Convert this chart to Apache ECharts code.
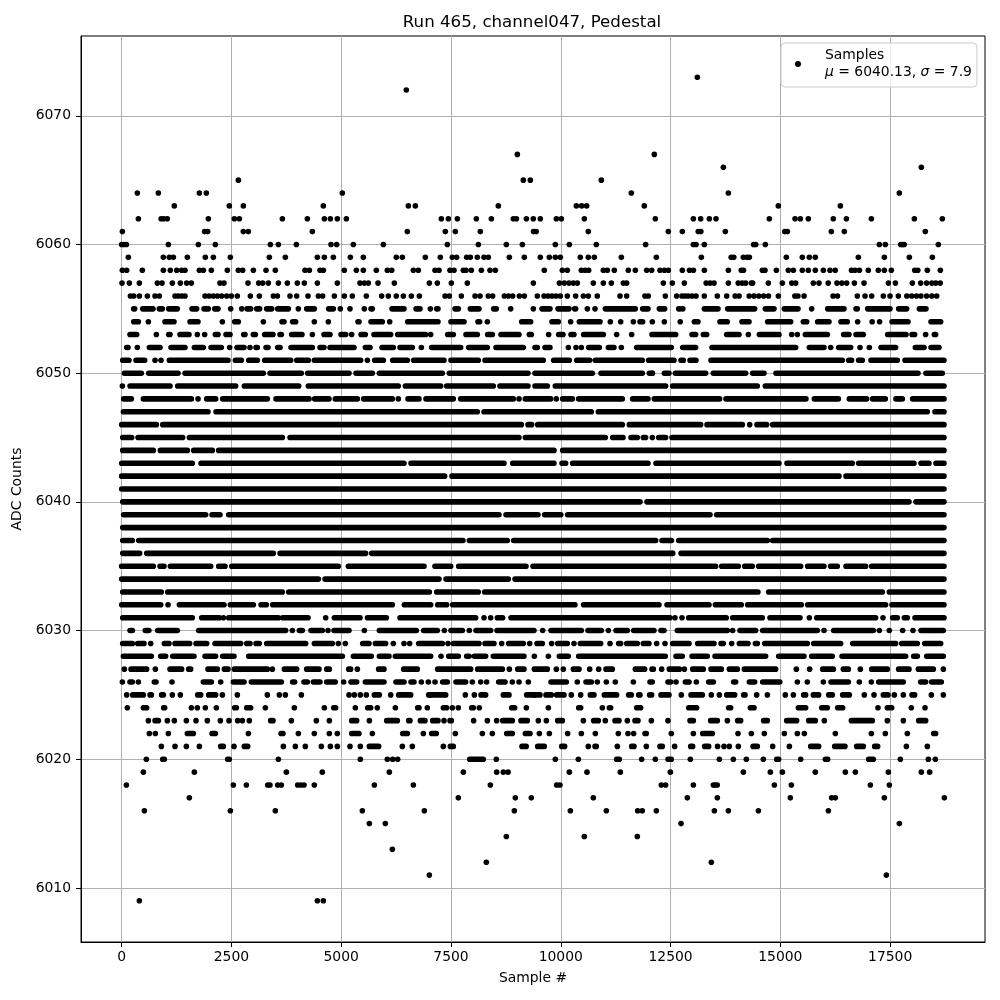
<!DOCTYPE html>
<html><head><meta charset="utf-8">
<script src="https://cdn.jsdelivr.net/npm/echarts@6/dist/echarts.min.js"></script>
<style>html,body{margin:0;padding:0;background:#fff}#c{width:1000px;height:1000px}</style>
</head><body><div id="c"></div>
<script>
const chartTitle='Run 465, channel047, Pedestal';
const xName='Sample #', yName='ADC Counts';
const xTicks=[0,2500,5000,7500,10000,12500,15000,17500];
const yTicks=[6010,6020,6030,6040,6050,6060,6070];
const seriesName='Samples';
const meanText='6040.13', sigmaText='7.9';

// Values. pNNNN: single samples at that ADC level.
// rNNNN: start,end pairs of stretches where the markers merge into a solid band.
const p6073=[13110];
const p6072=[6483];
const p6067=[9011,12130];
const p6066=[13702,18210];
const p6065=[2658,9147,9307,10923];
const p6064=[358,836,1770,1929,5026,11606,13816,17709];
const p6063=[1200,2453,2772,4593,6529,6688,8578,10354,10476,10589,11902,14954,16366];
const p6062=[381,900,960,1040,1975,2567,2681,3660,4229,4616,4753,4912,5117,7280,7440,7645,8077,8419,8920,8990,9216,9375,9534,9899,10013,10536,12153,13019,13186,13383,13535,14749,15334,15455,15637,16206,16503,17072,18051,18688];
const p6061=[17,1890,1960,2771,2885,4343,6506,7371,7599,8168,9380,9440,10627,12449,12768,13130,13190,13747,15100,15160,16161,16457,18301];
const p6060=[0,50,110,1064,1747,2134,3387,3569,3979,4768,4897,5276,5960,7417,8123,8760,9125,9876,10195,10810,11933,13020,13080,13269,14390,14440,14658,17254,17390,17740,17780,17820,18597];
const p6059=[153,950,1087,1178,1497,1906,2089,2476,3364,3728,4457,4616,4821,5208,5504,6255,6392,6916,7257,7531,7629,7857,7940,8100,8252,8350,8829,9170,9534,9739,9876,9990,10445,10627,10764,11379,12176,13201,13880,13940,14157,14240,14294,15136,15500,15660,15796,16776,17368,17937,18461];
const p6058=[16,115,472,950,1109,1254,1368,1443,1770,1861,2043,2407,2658,2757,3000,3288,3500,4176,4275,4518,4594,5071,5345,5504,5800,6050,6150,6643,6756,7136,7227,7477,7569,7781,7842,7963,8191,8388,8510,9625,10035,10149,10468,10552,10635,10969,11060,11219,11538,11698,11956,12070,12259,12358,12449,12768,12930,13020,13269,13816,14110,14160,14590,14650,14909,15182,15296,15500,15637,15796,15979,16130,16250,16620,16700,16800,17003,17231,17368,17527,18060,18130,18347,18643];
const p6057=[9,176,404,813,920,1155,1337,1481,1588,2240,2331,2878,3121,3212,3341,3569,3774,4001,4161,4457,4912,5428,5527,5618,5838,6210,7007,7189,7508,7872,9375,9967,10081,10187,10286,10377,10741,10969,11151,11424,11500,12335,12540,12814,13310,13400,13490,13816,14040,14130,14210,14340,14370,14726,15045,15260,15350,15750,15880,16090,16290,16400,16510,16685,16905,17460,17620,18005,18195,18330,18450,18540,18640];
const p6056=[200,275,404,586,760,859,1216,1290,1370,1443,1899,1990,2089,2180,2278,2392,2499,2635,2931,3136,3455,3546,3834,3986,4244,4480,4578,4844,5071,5254,5572,5921,6073,6255,6415,6597,6779,7364,7462,7736,8047,8161,8350,8449,8715,8806,8904,9056,9170,9466,9618,9710,9800,9890,9990,10149,10339,10514,10627,10832,11349,11500,11917,11993,12381,12639,12760,12830,12900,12990,13080,13269,13565,13778,13970,14060,14290,14400,14510,14620,14730,14954,15330,15400,15540,16200,16300,16753,16928,17080,17345,17497,17687,17880,17990,18100,18200,18330,18450,18560];
const p6055=[2483,2734,4024,4980,5200,5527,7030,8859,9375,10605,10779,12780,15713];
const r6055=[275,297,480,715,859,927,1072,1269,1603,1709,1876,1975,2119,2195,2347,2361,2856,2938,3076,3143,3303,3417,3554,3796,4214,4388,4715,4821,5679,5709,5884,5899,6157,6430,6704,6794,7174,7204,7592,7667,7941,8138,8472,8532,9573,9754,9937,10187,10316,10339,11015,11697,11865,11986,12244,12365,12685,12714,13269,13580,13801,14415,14658,14855,15091,15402,16078,16449,16723,16753,16988,17496,17694,17876,18165,18316];
const p6054=[609,2294,3227,4388,4707,6104,8328,10225,11128,11364,11652,12085,12358,16760,17090,17260,12720];
const r6054=[47,54,275,381,988,1193,1558,1739,2575,2658,3652,3697,3895,3963,4153,4168,4897,4912,5383,5405,5679,5936,6514,7204,7500,7796,8115,8153,9110,9314,9800,9944,10423,10893,11804,11864,13042,13124,13626,13792,14127,14286,14711,15235,15523,15599,15850,16107,16381,16525,17543,17906,18431,18650];
const p6053=[791,1724,1891,4343,5238,7037,9724,11272,11614,14271,15258,15387,18308];
const r6053=[191,343,540,555,1072,1102,1330,1534,2134,2195,2377,2468,2780,2809,2999,3045,3258,3447,3607,3637,3873,4107,4609,4745,4996,5102,5452,5549,5747,6126,6286,6923,7425,7553,7842,8100,8335,8441,8639,9048,9284,9329,9512,9519,9952,10050,10233,10300,10521,10969,11789,11796,12077,12616,12989,13071,13247,13322,13778,14058,14522,14969,15569,16070,16442,16563,16723,16889,17444,17861,17998,18058,18506,18536];
const p6052=[358,2460,2923,6825,10172,10347,10468,11379,16146,16814,17026];
const r6052=[115,145,632,874,1125,1443,1656,1860,2036,2270,2628,2787,3060,3090,3288,3333,3554,3607,3857,4343,4518,4608,4746,5291,5550,5656,5930,6187,6339,6620,7060,7720,7903,8327,8525,9147,9413,9466,9641,9754,10635,10878,11083,11211,11728,12517,12776,13071,13444,15348,15660,15994,16328,16601,17292,17625,18074,18271,18431,18612];
const p6051=[761,897,5596];
const r6051=[25,168,328,525,1087,2423,2590,2726,2894,3090,3258,3850,3987,4252,4389,5443,5763,5960,6173,6506,6650,7341,7500,8122,8275,9602,9838,10194,10362,10657,10787,11857,12000,12578,12738,12790,12943,13079,13421,16411,16556,16623,16783,16866,17064,17663,17838,18726];
const p6050=[12085];
const r6050=[63,449,617,1284,1444,3227,3380,4092,4237,5178,5338,5709,5869,7303,7463,9253,9413,10718,10916,11857,12017,12085,12358,12464,12609,13299,13474,14210,14370,14627,14901,18134,18316,18688];
const p6049=[17];
const r6049=[192,1102,1277,2597,2795,4032,4252,6300,6461,7265,7402,8464,8616,9253,9413,9694,9876,12388,12548,14475,14658,18726];
const p6048=[1740,6300,9049,9899];
const r6048=[47,221,495,1588,1937,2142,2302,3318,3516,4267,4396,4722,4867,5368,5512,6164,6521,6771,6931,7553,7721,8919,9193,9770,10043,10263,10407,11401,11637,11986,12130,13617,13762,15583,15774,16320,16571,16965,17102,17390,17633,17777,18013,18726];
const r6047=[40,1967,2150,8100,8252,10696,10855,18346,18521,18726];
const p6046=[14301];
const r6046=[2,791,936,9102,9254,9337,9474,11401,11561,13185,13330,14134,14468,14688,14825,18726];
const p6045=[12085];
const r6045=[25,229,374,1390,1543,3660,3835,9048,9193,11014,11182,11417,11600,11743,11880,11932,12229,12388,12533,18726];
const r6044=[25,722,882,1497,1641,2066,2210,9845,10043,18726];
const r6043=[2,1610,1808,6430,6590,8707,8905,9845,10028,10111,10271,11986,12168,14969,15151,16638,16783,18043,18203,18384,18544,18726];
const r6042=[2,7356,7523,16335,16495,18726];
const r6041=[2,18726];
const r6040=[25,11804,11963,17929,18089,18726];
const r6039=[47,1914,2059,2240,2438,8593,8753,9481,9633,10000,10157,13398,13550,18726];
const r6038=[25,18726];
const p6037=[12520];
const r6037=[25,245,389,7773,7918,8783,8927,12161,12305,12502,12685,14703,14825,18726];
const p6036=[12548];
const r6036=[25,411,571,3455,3607,5557,5695,12540,12738,18726];
const r6035=[0,722,875,965,1110,2028,2210,2354,2507,4935,5163,6886,7135,7493,7675,9208,9368,13527,13664,14043,14187,14361,14506,15462,15622,15993,16145,16297,16495,16942,17079,18726];
const r6034=[2,4480,4632,7227,7387,8806,8958,18726];
const r6033=[25,904,1049,3660,3805,7007,7174,8122,8267,14490,14734,17322,17482,18726];
const p6032=[1057];
const r6032=[2,890,1315,2332,2476,3000,3175,3296,3440,6164,6438,7037,7197,7401,7538,10323,10521,12236,12419,13375,13520,14111,14256,15477,15622,17397,17542,18726];
const p6031=[2317,4647,8252,8403,12600,12760,15660,17337];
const r6031=[25,1610,1823,2225,2438,3569,3668,4245,4844,5429,5598,6028,6340,8062,8556,8676,8867,12487,12912,13769,13914,14589,14764,15447,15827,17170,17558,17663,17823,17891,18066,18726];
const p6030=[3888,4700,5527,7349,7918,9588,11083,13914,15994,17254,17481,17785,18020];
const r6030=[192,245,539,620,822,1268,1755,3735,4047,4115,4313,4570,4837,5178,5869,6711,6878,7189,7500,7758,8070,8403,8548,9390,9778,10468,10620,10923,11258,11515,11660,12122,12282,12350,12654,13792,14081,14437,14597,15842,16214,17117,18202,18710];
const p6029=[662,4935,5094,6187,6430,6559,7432,8654,9291,9792,10301,11121,12183,12373,13891];
const r6029=[24,244,366,510,973,1079,1216,1549,1694,1937,2127,2711,2848,2923,3060,3136,3303,4191,4389,4798,5489,5633,5778,6012,6764,7303,7554,8138,8275,8479,8814,9147,9459,9580,9929,10149,10445,10908,11318,11364,11501,11743,11880,12008,12548,12920,13118,13489,13649,13701,14066,14263,14431,14476,14643,15614,15759,16373,16647,17625,17763,18119,18286,18650];
const p6028=[7273,9398,9717];
const r6028=[40,676,890,1003,1163,1648,1899,2141,2301,2559,2893,5026,5277,5686,5869,6088,6233,7037,7447,7667,7857,7910,8032,8289,8464,9162,9967,10171,10408,12380,12624,12767,12989,13337,13512,14665,14962,15538,15713,16183,16404,17853,18036,18119,18332,18711];
const p6027=[62,768,3432,5368,8829,9899,10058,10658,10863,12297,12814,15364,15667,16821,18711];
const r6027=[214,570,1102,1367,1527,1572,1967,2179,2339,2422,2567,3318,3706,3986,4214,4494,4670,4730,5171,5215,5671,5686,5853,5974,6423,6733,7197,7948,8108,8669,9019,9162,9398,9694,10286,10415,11030,11173,11698,11910,12077,12107,12472,12700,13004,13246,13421,13656,13839,14020,14180,14893,15964,16206,16434,16548,17080,17436,17694,17929,18142,18483];
const p6026=[17,381,1147,2256,5056,6825,6984,7136,7986,8176,8312,8897,9049,9261,10377,10832,11037,11242,11652,12624,13087,15387,15614,15979,16798,17072];
const r6026=[191,244,745,783,1861,2043,2544,2787,2954,3637,3895,3940,4153,4229,4366,4517,4670,4866,5224,5352,5550,5974,6248,6430,6590,6657,7311,7417,7614,7834,8586,8730,9778,10126,10574,10695,12032,12084,12442,12502,12837,12920,13368,13474,13937,13982,14294,14415,14598,14987,16154,16548,17239,17800,18195,18308,18445,18665];
const p6025=[115,1155,1337,2294,2635,3318,3591,3728,4092,5178,5299,5436,5572,6127,7030,7827,8032,9398,10240,10453,12745,13428,13611,14461,14704,15113,15296,16912,17133,17595,17800,18438,18711];
const r6025=[252,494,647,677,912,950,1732,1800,1983,2141,4768,4783,5755,5868,6309,6582,6992,7379,8184,8289,8692,8821,9223,9527,9664,9785,9907,10073,10673,10756,10992,11272,11546,11606,11774,11804,12024,12069,12282,12464,12966,13223,13778,13959,14165,14195,15531,15576,15751,15872,16101,16183,16419,16570,17345,17451,17998,18058];
const p6024=[130,1588,1724,1906,2157,3273,3933,4616,5322,5823,6233,6961,7531,7667,8145,9216,9717,10946,17223,17982,18294];
const r6024=[495,570,958,980,2575,2612,2848,2938,4829,4874,5603,5671,6742,6771,7326,7401,7971,8008,8882,8950,10408,10453,11106,11136,11728,11819,12913,13094,13823,13868,14317,14400,15410,15576,15941,16070,16305,16419,17436,17535];
const p6023=[609,1041,1200,1474,1694,1952,2248,2445,2643,2749,2908,3865,4434,4730,5641,7341,8016,8328,8540,9489,9671,10514,11014,11515,12062,12441,13793,16001,17436,17800];
const r6023=[761,836,3394,3447,5239,5352,6036,6278,6537,6566,6802,6908,7083,7204,7478,7508,8677,8897,9094,9238,9930,10035,10749,10855,11235,11325,11690,11758,12943,13018,13413,13565,14028,14096,14620,14703,15144,15371,15645,15796,16617,17094,18150,18309];
const p6022=[631,768,1064,2886,4024,4388,4730,4912,5709,6870,7599,8214,8441,9512,9739,10157,10468,10787,11310,11530,11659,12517,13019,14036,14339,14635,15091,15387,15546,16252,17072,17390,17891];
const r6022=[1497,1633,2059,2134,3630,3675,5239,5405,6400,6506,7060,7166,8768,8897,9193,9299,9952,9967,11918,11948,13231,13451,18491,18536];
const p6021=[905,1216,1474,1770,2559,3683,3956,4183,4548,4753,4912,5200,5436,6392,6620,7326,9212,10627,11288,11948,12593,13570,13717,13838,14043,14825,15205,17869,18347];
const r6021=[2256,2316,2795,2870,5641,5853,7485,7553,9117,9170,9474,9625,10021,10088,10780,10809,11614,11667,12259,12312,12958,13003,13277,13367,14378,14476,15691,15872,16237,16471,16738,16889,17148,17216];
const p6020=[563,3569,5436,6050,6172,6286,8532,9876,10400,11842,12153,12950,13611,13929,14225,14612,15463,17732,18370,18529];
const r6020=[935,972,2415,2452,7926,8236,11272,11333,12442,12517,14916,14961,16025,16077,17011,17117];
const p6019=[495,1656,3751,4570,6096,7781,8540,8692,8800,10195,10597,11356,12495,14157,14772,15045,15796,16480,16707,17459,18210,18400];
const p6018=[108,2544,2840,3326,3378,3554,3637,4009,4080,4153,4388,5755,6643,8396,9907,9982,12289,12388,13019,13474,13520,13563,14863,15250,17049,17482];
const p6017=[1542,7667,8965,9329,10741,12882,13565,15227,16168,16252,17368,18734];
const p6016=[518,2476,3500,5481,6893,8942,10218,11037,11751,11855,12176,13497,13816,14499,16093];
const p6015=[5641,6005,12738,17709];
const p6014=[8760,10536,11743];
const p6013=[6165];
const p6012=[8305,13428];
const p6011=[7007,17413];
const p6009=[404,4457,4593];

const singleRows=[[6073,p6073],[6072,p6072],[6067,p6067],[6066,p6066],[6065,p6065],[6064,p6064],[6063,p6063],[6062,p6062],[6061,p6061],[6060,p6060],[6059,p6059],[6058,p6058],[6057,p6057],[6056,p6056],[6055,p6055],[6054,p6054],[6053,p6053],[6052,p6052],[6051,p6051],[6050,p6050],[6049,p6049],[6048,p6048],[6046,p6046],[6045,p6045],[6037,p6037],[6036,p6036],[6032,p6032],[6031,p6031],[6030,p6030],[6029,p6029],[6028,p6028],[6027,p6027],[6026,p6026],[6025,p6025],[6024,p6024],[6023,p6023],[6022,p6022],[6021,p6021],[6020,p6020],[6019,p6019],[6018,p6018],[6017,p6017],[6016,p6016],[6015,p6015],[6014,p6014],[6013,p6013],[6012,p6012],[6011,p6011],[6009,p6009]];
const bandRows=[[6055,r6055],[6054,r6054],[6053,r6053],[6052,r6052],[6051,r6051],[6050,r6050],[6049,r6049],[6048,r6048],[6047,r6047],[6046,r6046],[6045,r6045],[6044,r6044],[6043,r6043],[6042,r6042],[6041,r6041],[6040,r6040],[6039,r6039],[6038,r6038],[6037,r6037],[6036,r6036],[6035,r6035],[6034,r6034],[6033,r6033],[6032,r6032],[6031,r6031],[6030,r6030],[6029,r6029],[6028,r6028],[6027,r6027],[6026,r6026],[6025,r6025],[6024,r6024],[6023,r6023],[6022,r6022],[6021,r6021],[6020,r6020]];

const scatterData=[];
singleRows.forEach(([y,xs])=>xs.forEach(x=>scatterData.push([x,y])));
const bandData=[];
bandRows.forEach(([y,pairs])=>{
  for(let i=0;i<pairs.length;i+=2){
    bandData.push([pairs[i],y],[pairs[i+1],y],[null,null]);
  }
});

const font='"DejaVu Sans"';
const axisCommon={
  axisLine:{show:true,onZero:false,lineStyle:{color:'#000',width:1}},
  axisTick:{show:true,length:5,inside:false,lineStyle:{color:'#000',width:1}},
  splitLine:{show:true,lineStyle:{color:'#b0b0b0',width:1}},
  nameLocation:'middle',
  nameTextStyle:{color:'#000',fontFamily:font,fontSize:13.9}
};
const plain=v=>String(v);
const chart=echarts.init(document.getElementById('c'),null,{renderer:'canvas'});
chart.setOption({
  animation:false,
  backgroundColor:'#fff',
  title:{text:chartTitle,left:527,top:9,textAlign:'center',
    textStyle:{fontFamily:font,fontSize:16.67,fontWeight:'normal',color:'#000'}},
  grid:{left:81,top:36,width:904,height:906,containLabel:false,
    show:true,borderColor:'#000',borderWidth:1,backgroundColor:'transparent'},
  xAxis:{type:'value',min:-925,max:19660,name:xName,nameGap:29,...axisCommon,
    axisTick:{...axisCommon.axisTick,customValues:xTicks},
    axisLabel:{customValues:xTicks,formatter:plain,color:'#000',fontFamily:font,fontSize:13.9,margin:8,showMinLabel:true,showMaxLabel:true}},
  yAxis:{type:'value',min:6005.8,max:6076.2,name:yName,nameGap:51,...axisCommon,
    axisTick:{...axisCommon.axisTick,customValues:yTicks},
    axisLabel:{customValues:yTicks,formatter:plain,color:'#000',fontFamily:font,fontSize:13.9,margin:10}},
  legend:{
    show:true,data:[{name:seriesName,icon:'circle'}],
    left:781,top:43,padding:[4,5,6,14],itemWidth:6,itemHeight:6,
    backgroundColor:'rgba(255,255,255,0.8)',borderColor:'#ccc',borderWidth:1,borderRadius:4,
    selectedMode:false,
    formatter:()=>seriesName+'\n{i|μ} = '+meanText+', {i|σ} = '+sigmaText,
    textStyle:{fontFamily:font,fontSize:13.9,color:'#000',lineHeight:17,padding:[0,0,0,19],
      rich:{i:{fontFamily:font,fontStyle:'italic',fontSize:13.9,lineHeight:17,color:'#000'}}}
  },
  series:[
    {name:'bands',type:'line',data:bandData,showSymbol:false,symbol:'none',connectNulls:false,silent:true,
      lineStyle:{color:'#000',width:5.6,cap:'round',opacity:1},z:3},
    {name:seriesName,type:'scatter',data:scatterData,symbol:'circle',symbolSize:5.6,
      itemStyle:{color:'#000',opacity:1},silent:true,z:4}
  ]
});
</script></body></html>
